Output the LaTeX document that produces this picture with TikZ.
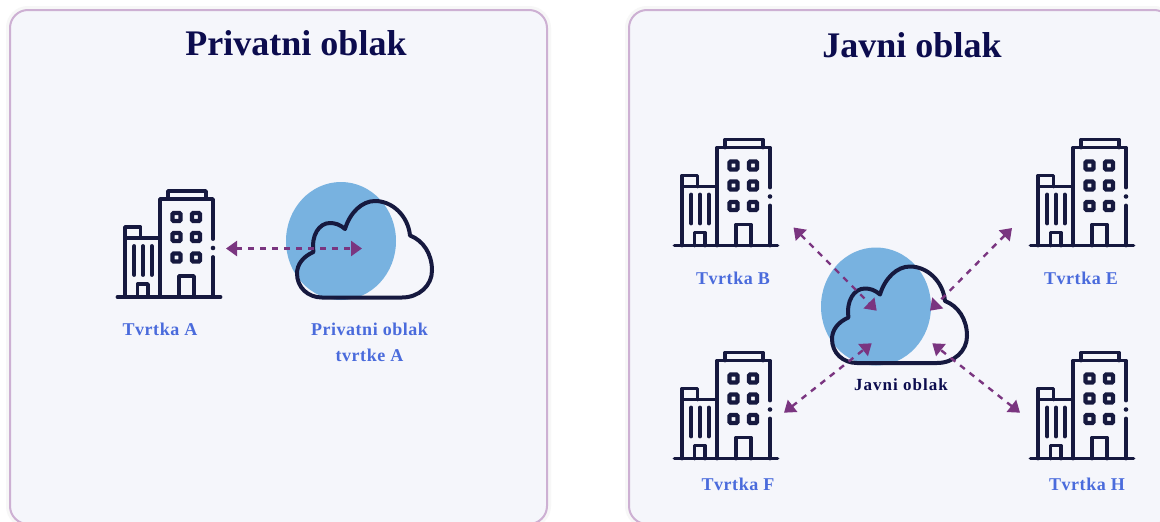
\documentclass[tikz,border=0pt]{standalone}
\usepackage{fontspec}
\setmainfont{Liberation Serif}
\newfontface\labelface[LetterSpace=3]{Liberation Serif Bold}
\newfontface\darkface[LetterSpace=6]{Liberation Serif Bold}
\usetikzlibrary{arrows.meta}
\definecolor{panelfill}{HTML}{F5F6FB}
\definecolor{panelline}{HTML}{CDB0D3}
\definecolor{inkdark}{HTML}{16193F}
\definecolor{titleink}{HTML}{0C0C4E}
\definecolor{labelblue}{HTML}{4A6BDC}
\definecolor{blob}{HTML}{78B2E0}
\definecolor{arrowpurple}{HTML}{7A3580}
\tikzset{
  panel/.style={draw=panelline,line width=2pt,fill=panelfill,rounded corners=18pt},
  panelshadow/.style={draw=black!3,line width=4pt,rounded corners=20pt},
  titletext/.style={font=\bfseries\fontsize{36}{40}\selectfont,text=titleink,inner sep=0pt,anchor=center},
  labeltext/.style={font=\labelface\fontsize{18}{26}\selectfont,text=labelblue,inner sep=0pt,align=center,anchor=center},
  darklabel/.style={font=\darkface\fontsize{17}{20}\selectfont,text=titleink,inner sep=0pt,anchor=center},
  linkarrow/.style={arrowpurple,line width=2.4pt,dash pattern=on 6pt off 6pt,{Triangle[length=11pt,width=15pt]}-{Triangle[length=11pt,width=15pt]}},
  ink/.style={draw=inkdark,line width=3.8pt,line cap=round,line join=round},
  building/.pic={
    \draw[ink] (1.5,0) -- (104.5,0);
    \draw[ink] (44,0) -- (44,-98) -- (97,-98) -- (97,-58);
    \draw[ink] (97,-40) -- (97,0);
    \fill[inkdark] (97,-49) circle (2.3pt);
    \draw[ink] (52,-98) -- (52,-106) -- (90,-106) -- (90,-98);
    \draw[ink] (9,0) -- (9,-59) -- (44,-59);
    \draw[ink] (9,-59) -- (9,-70) -- (24.5,-70) -- (24.5,-59);
    \foreach \wx in {60.5,80} \foreach \wy in {-80,-60,-39.5}
      \draw[draw=inkdark,line width=4.2pt,rounded corners=1pt] (\wx-4,\wy-4) rectangle (\wx+4,\wy+4);
    \draw[ink] (63,0) -- (63,-21) -- (78,-21) -- (78,0);
    \draw[ink] (21.5,0) -- (21.5,-13) -- (32,-13) -- (32,0);
    \foreach \bx in {18.3,27,35.7} \draw[ink] (\bx,-22) -- (\bx,-51);
  },
  cloudicon/.pic={
    \fill[blob] (44,-56.5) ellipse (55pt and 59pt);
    \draw[ink,line width=4pt] (25,0) -- (105,0)
      .. controls (122,0) and (135,-12) .. (135,-27)
      .. controls (135,-44) and (126,-57) .. (113,-62)
      .. controls (111,-82) and (95,-96.5) .. (78,-96.5)
      .. controls (65,-96.5) and (53,-85) .. (48,-68.5)
      .. controls (43,-73) and (38,-74.5) .. (33,-74.5)
      .. controls (22,-74.5) and (14,-62) .. (16.5,-45.5)
      .. controls (6,-41) and (0,-33) .. (0,-24)
      .. controls (0,-10) and (11,0) .. (25,0) -- cycle;
  }
}
\begin{document}
\begin{tikzpicture}[x=1pt,y=-1pt]
\useasboundingbox (0,0) rectangle (1160,522);
\fill[white] (0,0) rectangle (1160,522);
\begin{scope}
\clip (0,0) rectangle (1160,522);
\path[panelshadow] (8,8) rectangle (549,526);
\path[panelshadow] (627,8) rectangle (1174,526);
\path[panel] (10,10) rectangle (547,524);
\path[panel] (629,10) rectangle (1172,524);
\end{scope}

\node[titletext] (titleA) at (296,43) {Privatni oblak};
\node[titletext] (titleB) at (912,45) {Javni oblak};

\pic at (116,297) {building};
\pic at (297,297.5) {cloudicon};
\node[labeltext] (tA) at (160,329) {Tvrtka A};
\node[labeltext] (pA) at (369.5,342) {Privatni oblak\\tvrtke A};
\coordinate (aL) at (226,248.5);
\coordinate (aR) at (362,248.5);
\draw[linkarrow] (aL) -- (aR);

\pic at (673,245.5) {building};
\pic at (1029,245.5) {building};
\pic at (673,458.5) {building};
\pic at (1029,458.5) {building};
\pic at (832,363) {cloudicon};

\node[labeltext] (tB) at (733,278) {Tvrtka B};
\node[labeltext] (tE) at (1081,278) {Tvrtka E};
\node[labeltext] (tF) at (738,484) {Tvrtka F};
\node[labeltext] (tH) at (1087,484) {Tvrtka H};
\node[darklabel] (jo) at (901,385) {Javni oblak};

\coordinate (bOut) at (793.5,227.5);
\coordinate (bIn) at (876.7,310.7);
\coordinate (eOut) at (1012,228);
\coordinate (eIn) at (930,310.7);
\coordinate (fOut) at (784,412.7);
\coordinate (fIn) at (871.7,343.3);
\coordinate (hOut) at (1020,412.7);
\coordinate (hIn) at (932.3,343.3);
\draw[linkarrow] (bOut) -- (bIn);
\draw[linkarrow] (eOut) -- (eIn);
\draw[linkarrow] (fOut) -- (fIn);
\draw[linkarrow] (hOut) -- (hIn);
\end{tikzpicture}
\end{document}
